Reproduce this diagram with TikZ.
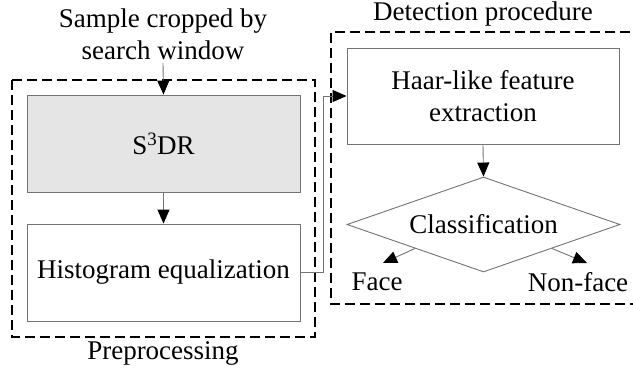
\documentclass[tikz,border=0pt]{standalone}
\usepackage{fontspec}
\setmainfont{Liberation Serif}
\usetikzlibrary{arrows.meta,shapes.geometric}
\begin{document}
\begin{tikzpicture}[x=1pt,y=-1pt,
  txt/.style={font=\fontsize{27}{32}\selectfont, align=center, inner sep=0pt},
  procbox/.style={draw=black!55, line width=0.9pt, minimum width=273pt, minimum height=97pt, inner sep=0pt, font=\fontsize{27}{32}\selectfont, align=center},
  grp/.style={draw=black, line width=1.6pt, dash pattern=on 10pt off 5pt},
  conn/.style={draw=black!55, line width=0.9pt, -{Triangle[length=14pt,width=12pt,color=black]}},
  ]
\useasboundingbox (0,0) rectangle (633,368);
% groups
\draw[grp] (12,80) rectangle (315,337);
\draw[grp] (645,32) -- (331,32) -- (331,304) -- (645,304);
% texts
\node[txt] (title) at (163,34) {Sample cropped by\\search window};
\node[txt] (pre) at (163,353) {Preprocessing};
\node[txt] (det) at (483,14) {Detection procedure};
% boxes
\node[procbox, fill=black!10] (s3dr) at (163.5,143.5) {S\textsuperscript{3}DR};
\node[procbox] (hist) at (163.5,272.5) {Histogram equalization};
\node[procbox, minimum width=272pt, minimum height=96pt] (haar) at (483,96) {Haar-like feature\\extraction};
\node[draw=black!55, line width=0.9pt, diamond, aspect=2.87, inner sep=0pt, minimum width=273pt, minimum height=95pt, font=\fontsize{27}{32}\selectfont] (cls) at (483.5,224.5) {Classification};
\node[txt] (face) at (377,282) {Face};
\node[txt] (nonface) at (578,282) {Non-face};
% connectors
\coordinate (titlebot) at (163,63);
\draw[conn] (titlebot) -- (s3dr.north);
\draw[conn] (s3dr.south) -- (hist.north);
\coordinate (c1) at (323,272.5);
\coordinate (c2) at (323,96);
\draw[conn] (hist.east) -- (c1) -- (c2) -- (haar.west);
\draw[conn] (haar.south) -- (cls.north);
\coordinate (facetip) at (383,263);
\coordinate (nonfacetip) at (587,263);
\draw[conn] (cls.south west) -- (facetip);
\draw[conn] (cls.south east) -- (nonfacetip);
\end{tikzpicture}
\end{document}
